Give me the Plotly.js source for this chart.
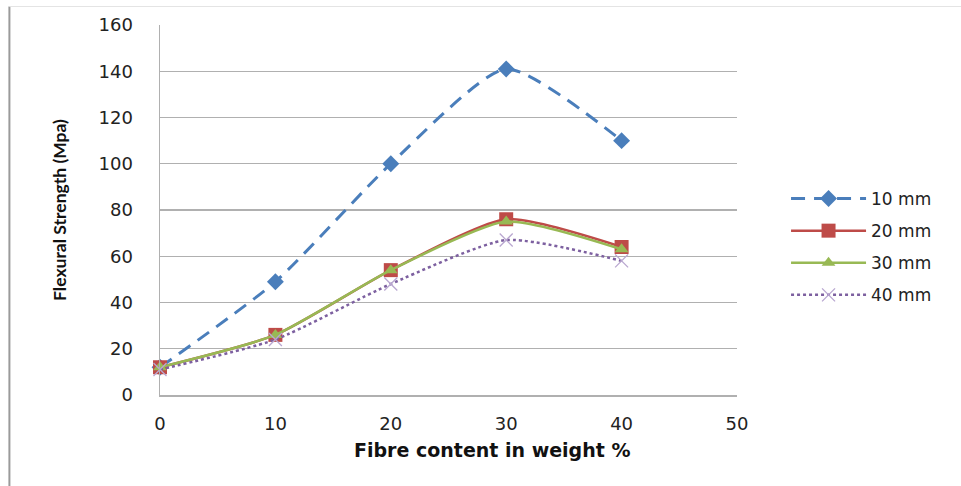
<!DOCTYPE html>
<html>
<head>
<meta charset="utf-8">
<script src="https://cdn.plot.ly/plotly-3.0.1.min.js"></script>
<style>html,body{margin:0;padding:0;background:#fff;}#chart{width:961px;height:486px;}</style>
</head>
<body>
<div id="chart"></div>
<script>
const fibreContent = [0, 10, 20, 30, 40];
const s10mm = [12, 49, 100, 141, 110];
const s20mm = [12, 26, 54, 76, 64];
const s30mm = [12, 26, 54, 75, 63];
const s40mm = [11, 24, 48, 67, 58];
const seriesNames = ['10 mm', '20 mm', '30 mm', '40 mm'];
const xTitle = 'Fibre content in weight %';
const yTitle = 'Flexural Strength (Mpa)';

const traces = [
  {x: fibreContent, y: s10mm, name: seriesNames[0], legendgroup: 'a', mode: 'lines+markers',
   line: {color: '#4a7ebb', width: 3, dash: '14px,9px', shape: 'spline', smoothing: 0.6},
   marker: {symbol: 'diamond', size: 13, color: '#4a7ebb'}, cliponaxis: false},
  {x: fibreContent, y: s20mm, name: seriesNames[1], legendgroup: 'b', mode: 'lines+markers',
   line: {color: '#be4b48', width: 2.5, shape: 'spline', smoothing: 0.6},
   marker: {symbol: 'square', size: 14, color: '#be4b48'}, cliponaxis: false},
  {x: fibreContent, y: s30mm, name: seriesNames[2], legendgroup: 'c', mode: 'lines+markers',
   line: {color: '#98b954', width: 2.5, shape: 'spline', smoothing: 0.6},
   marker: {symbol: 'triangle-up', size: 12, color: '#98b954'}, cliponaxis: false},
  {x: fibreContent, y: s40mm, name: seriesNames[3], legendgroup: 'd', mode: 'lines+markers',
   line: {color: '#7d60a0', width: 2.5, dash: 'dot', shape: 'spline', smoothing: 0.6},
   marker: {symbol: 'x-thin', size: 13, color: '#b9a7d0', line: {color: '#b9a7d0', width: 1.3}}, cliponaxis: false}
];

const layout = {
  width: 961, height: 486,
  margin: {l: 160, r: 224, t: 25, b: 91},
  paper_bgcolor: '#fff', plot_bgcolor: '#fff',
  showlegend: true,
  legend: {x: 1.085, y: 0.4, xanchor: 'left', yanchor: 'middle', traceorder: 'grouped',
           font: {family: 'Verdana, DejaVu Sans, sans-serif', size: 17, color: '#222'},
           tracegroupgap: 7, itemwidth: 75},
  xaxis: {range: [0, 50], tickvals: [0, 10, 20, 30, 40, 50], showgrid: false, zeroline: false,
          showline: true, linecolor: '#b0b0b0', linewidth: 1.5, ticks: '', ticklen: 0,
          ticklabelstandoff: 12,
          tickfont: {family: 'Verdana, DejaVu Sans, sans-serif', size: 18, color: '#222'}},
  yaxis: {range: [0, 160], tickvals: [0, 20, 40, 60, 80, 100, 120, 140, 160], showgrid: true,
          gridcolor: '#b0b0b0', gridwidth: 1.3, zeroline: false,
          showline: true, linecolor: '#b0b0b0', linewidth: 1.5, ticks: '',
          ticklabelstandoff: 22,
          tickfont: {family: 'Verdana, DejaVu Sans, sans-serif', size: 18, color: '#222'},
          title: {text: yTitle, standoff: 27,
                  font: {family: 'Lato, sans-serif', size: 17.5, color: '#111', weight: 'bold'}}},
  annotations: [
    {text: xTitle, xref: 'paper', yref: 'paper', x: 0.575, y: -0.148, xanchor: 'center', yanchor: 'middle',
     showarrow: false, font: {family: 'DejaVu Sans, Verdana, sans-serif', size: 19, color: '#111', weight: 'bold'}}
  ],
  shapes: [
    {type: 'line', xref: 'paper', yref: 'paper', x0: -0.261, x1: -0.261, y0: 1.05, y1: -0.25,
     line: {color: '#9a9a9a', width: 2}},
    {type: 'line', xref: 'paper', yref: 'paper', x0: -0.261, x1: 1.39, y0: 1.05, y1: 1.05,
     line: {color: '#e4e4e4', width: 1}}
  ]
};

Plotly.newPlot('chart', traces, layout, {displayModeBar: false, staticPlot: true});
</script>
</body>
</html>
